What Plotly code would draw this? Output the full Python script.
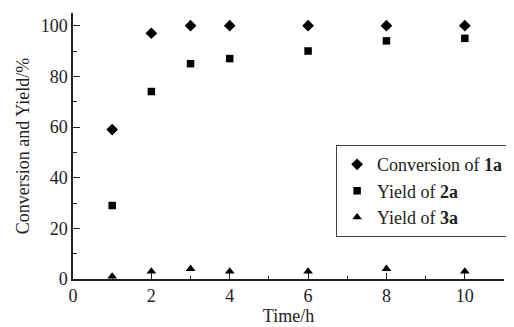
import plotly.graph_objects as go

time_h = [1, 2, 3, 4, 6, 8, 10]
conv_1a = [59, 97, 100, 100, 100, 100, 100]
yield_2a = [29, 74, 85, 87, 90, 94, 95]
yield_3a = [1, 3, 4, 3, 3, 4, 3]

FONT = "Liberation Serif, Times New Roman, serif"
FS = 18

fig = go.Figure()
fig.add_trace(go.Scatter(x=time_h, y=conv_1a, mode="markers", name="Conversion of <b>1a</b>",
                         marker=dict(symbol="diamond", size=9, color="black")))
fig.add_trace(go.Scatter(x=time_h, y=yield_2a, mode="markers", name="Yield of <b>2a</b>",
                         marker=dict(symbol="square", size=7.5, color="black")))
fig.add_trace(go.Scatter(x=time_h, y=yield_3a, mode="markers", name="Yield of <b>3a</b>",
                         marker=dict(symbol="triangle-up", size=8.5, color="black")))

# page body adds an 8px offset, so the figure is 8px smaller than the window
fig.update_layout(
    width=506, height=319,
    margin=dict(l=65, r=7, t=5, b=48),
    paper_bgcolor="white", plot_bgcolor="white",
    font=dict(family=FONT, size=FS, color="#222"),
    showlegend=True,
    legend=dict(x=0.61, y=0.504, xanchor="left", yanchor="top",
                bordercolor="#444", borderwidth=1.2, bgcolor="white",
                font=dict(family=FONT, size=FS, color="#222"),
                tracegroupgap=0, itemwidth=30),
    xaxis=dict(range=[0, 11], tickvals=[0, 2, 4, 6, 8, 10], showgrid=False, zeroline=False,
               automargin=False,
               showline=True, linecolor="#222", linewidth=1.5,
               ticks="inside", ticklen=6, tickwidth=1.3, tickcolor="#222",
               minor=dict(dtick=1, ticks="inside", ticklen=3, tickwidth=1.2, tickcolor="#222"),
               title=dict(text="Time/h", font=dict(family=FONT, size=FS), standoff=2),
               tickfont=dict(family=FONT, size=FS)),
    yaxis=dict(range=[0, 105], tickvals=[0, 20, 40, 60, 80, 100], showgrid=False, zeroline=False,
               automargin=False,
               showline=True, linecolor="#222", linewidth=1.5,
               ticks="inside", ticklen=7, tickwidth=1.3, tickcolor="#222",
               minor=dict(dtick=10, ticks="inside", ticklen=4, tickwidth=1.2, tickcolor="#222"),
               title=dict(text="Conversion and Yield/%", font=dict(family=FONT, size=FS), standoff=6),
               tickfont=dict(family=FONT, size=FS)),
)

fig.write_html("out.html")
